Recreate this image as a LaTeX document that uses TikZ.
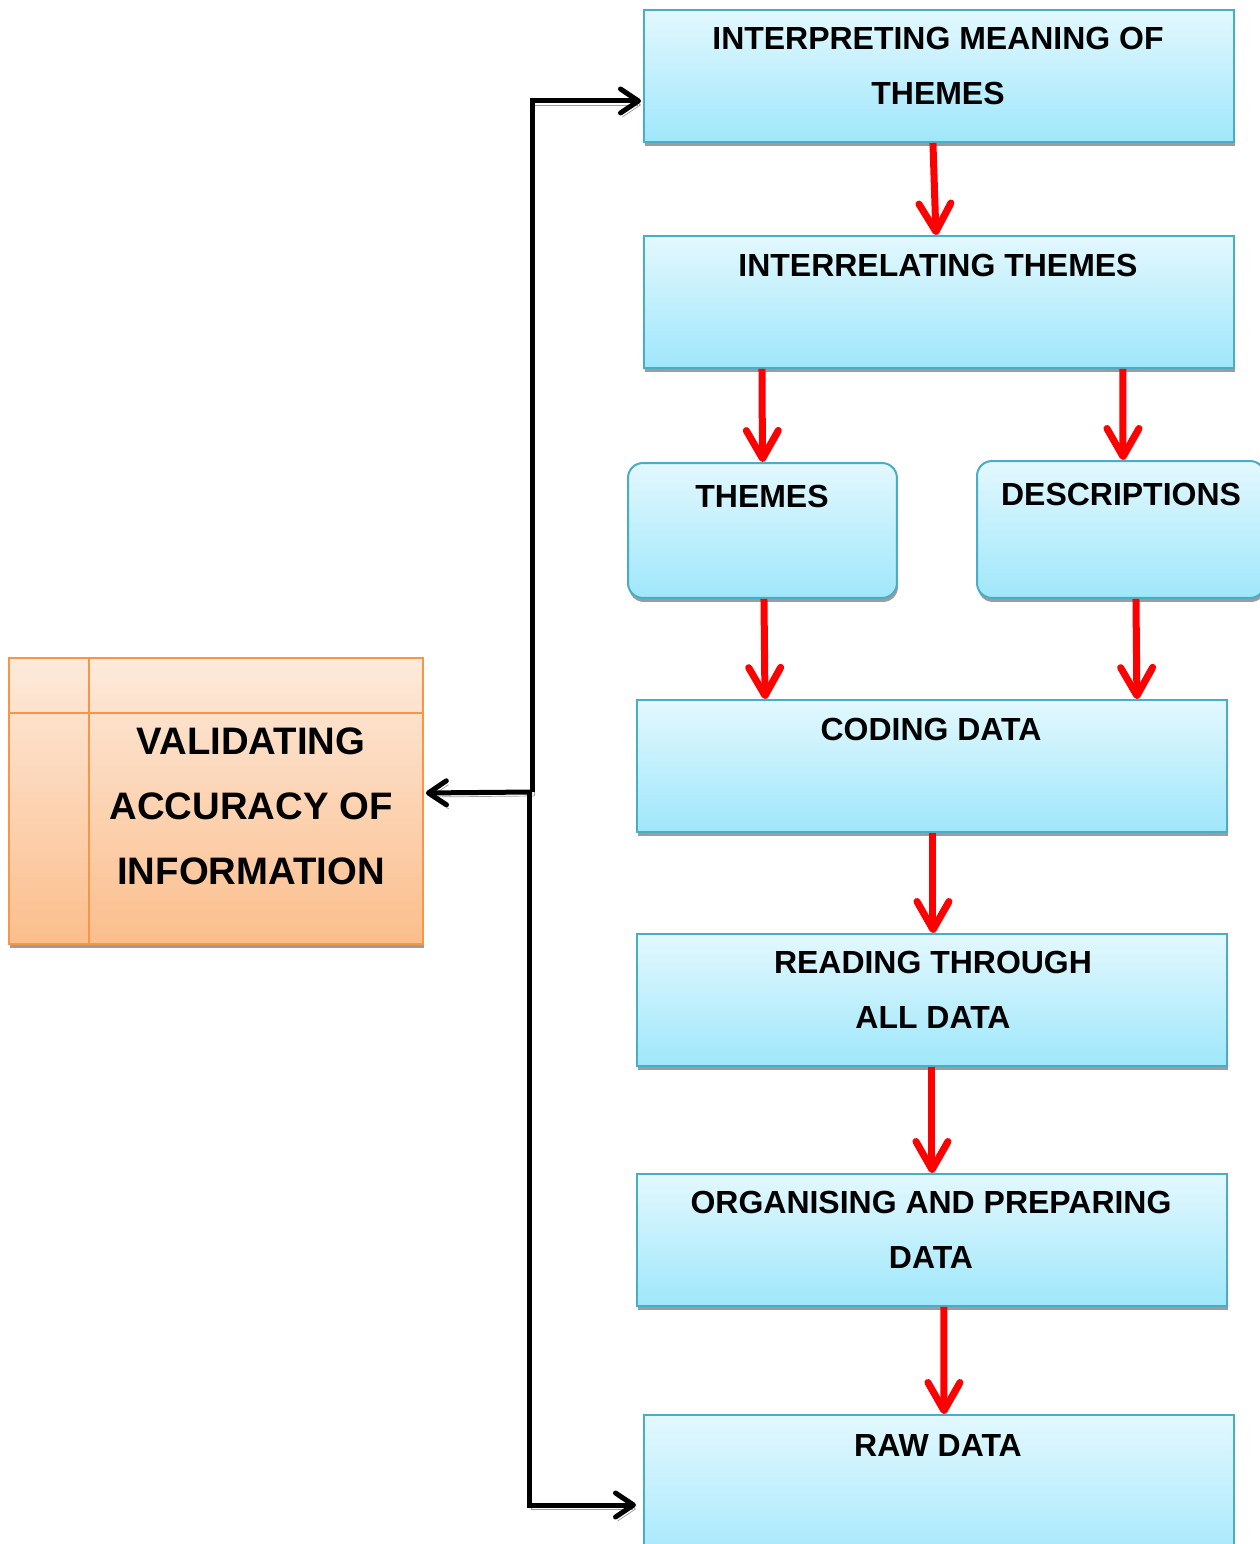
\documentclass[tikz,border=0pt]{standalone}
\usepackage{fontspec}
\setmainfont{Liberation Sans}
\usetikzlibrary{arrows.meta,shadows}

\definecolor{boxtop}{HTML}{E3F8FE}
\definecolor{boxbot}{HTML}{9FE7FB}
\definecolor{boxline}{HTML}{4BACC6}
\definecolor{orgtop}{HTML}{FDEADB}
\definecolor{orgbot}{HTML}{FBBE8C}
\definecolor{orgline}{HTML}{F79646}
\definecolor{shade}{HTML}{9C9C9C}

\tikzset{
  stagebox/.style={draw=boxline, line width=0.04cm, top color=boxtop,
    bottom color=boxbot, anchor=north west, inner sep=0pt,
    drop shadow={shadow xshift=0.02cm, shadow yshift=-0.08cm,
      fill=shade, opacity=1}},
  widebox/.style={stagebox, minimum width=11.8cm, minimum height=2.64cm},
  roundbox/.style={stagebox, rounded corners=0.3cm},
  checkbox/.style={draw=orgline, line width=0.04cm, top color=orgtop,
    bottom color=orgbot, anchor=north west, inner sep=0pt,
    minimum width=8.28cm, minimum height=5.72cm,
    drop shadow={shadow xshift=0.02cm, shadow yshift=-0.08cm,
      fill=shade, opacity=1}},
  steptext/.style={anchor=north, inner sep=0pt, align=center,
    font=\fontsize{18.2pt}{31.2pt}\selectfont\bfseries},
  checktext/.style={anchor=north, inner sep=0pt, align=center,
    font=\fontsize{21.8pt}{37pt}\selectfont\bfseries},
  flowarrow/.style={draw=red, line width=0.14cm,
    -{Straight Barb[round,length=0.56cm,width=0.64cm]},
    preaction={draw=shade, transform canvas={shift={(0.04cm,-0.07cm)}}}},
  backarrow/.style={draw=black, line width=0.1cm,
    -{Straight Barb[round,length=0.36cm,width=0.48cm]},
    preaction={draw=shade, transform canvas={shift={(0.04cm,-0.08cm)}}}}
}

\begin{document}
\begin{tikzpicture}[x=0.02cm,y=-0.02cm]
\useasboundingbox (0,0) rectangle (1260,1544);
\clip (0,0) rectangle (1260,1544);
\fill[white] (0,0) rectangle (1260,1544);

% stage boxes
\node[widebox] (b1) at (643,9) {};
\node[widebox] (b2) at (643,235) {};
\node[roundbox, minimum width=5.38cm, minimum height=2.7cm] (th) at (627,462) {};
\node[roundbox, minimum width=5.76cm, minimum height=2.74cm] (ds) at (976,460) {};
\node[widebox] (cd) at (636,699) {};
\node[widebox] (rd) at (636,933) {};
\node[widebox] (og) at (636,1173) {};
\node[stagebox, minimum width=11.8cm, minimum height=3.2cm] (rw) at (643,1414) {};

% validation box with its ruled header and margin
\node[checkbox] (val) at (8,657) {};
\draw[orgline, line width=0.04cm] ([xshift=1.62cm]val.north west) -- ([xshift=1.62cm]val.south west);
\draw[orgline, line width=0.04cm] ([yshift=-1.12cm]val.north west) -- ([yshift=-1.12cm]val.north east);

% captions
\node[steptext] (t1) at (938,27) {INTERPRETING MEANING OF\\THEMES};
\node[steptext] (t2) at (938,254) {INTERRELATING THEMES};
\node[steptext] (t3) at (762,485) {THEMES};
\node[steptext] (t4) at (1121,483) {DESCRIPTIONS};
\node[steptext] (t5) at (931,718) {CODING DATA};
\node[steptext] (t6) at (933,951) {READING THROUGH\\ALL DATA};
\node[steptext] (t7) at (931,1191) {ORGANISING AND PREPARING\\DATA};
\node[steptext] (t8) at (938,1434) {RAW DATA};
\node[checktext] (t9) at (251,727) {VALIDATING\\ACCURACY OF\\INFORMATION};

% upward flow of the analysis
\draw[flowarrow] ([xshift=-0.12cm]b1.south) -- ([xshift=-0.06cm]b2.north);
\draw[flowarrow] ([xshift=-3.54cm]b2.south) -- (th.north);
\draw[flowarrow] ([xshift=3.68cm]b2.south) -- ([xshift=0.04cm]ds.north);
\draw[flowarrow] ([xshift=0.03cm]th.south) -- ([xshift=-3.34cm]cd.north);
\draw[flowarrow] ([xshift=0.3cm]ds.south) -- ([xshift=4.1cm]cd.north);
\draw[flowarrow] ([xshift=0.02cm]cd.south) -- ([xshift=0.02cm]rd.north);
\draw[flowarrow] (rd.south) -- (og.north);
\draw[flowarrow] ([xshift=0.24cm]og.south) -- ([xshift=0.1cm]rw.north);

% validation links
\coordinate (ju) at (532,792);
\coordinate (jl) at (529,792);
\draw[backarrow] (ju) -- ([xshift=0.04cm,yshift=0.16cm]val.east);
\draw[backarrow] (ju) |- ([xshift=-0.04cm,yshift=-0.5cm]b1.west);
\draw[backarrow] (jl) |- ([xshift=-0.14cm,yshift=-1.82cm]rw.north west);
\end{tikzpicture}
\end{document}
